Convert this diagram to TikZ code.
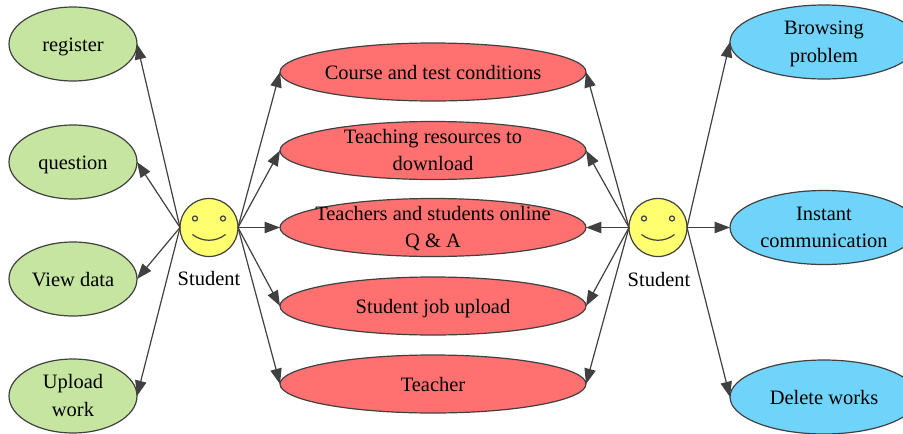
\documentclass[tikz,border=0pt]{standalone}
\usepackage{fontspec}
\setmainfont{Liberation Serif}
\usetikzlibrary{shapes.geometric,arrows.meta,calc}
\definecolor{lineg}{HTML}{404040}
\definecolor{greenf}{HTML}{C5E5A0}
\definecolor{redf}{HTML}{FF7070}
\definecolor{bluef}{HTML}{70D4FA}
\definecolor{facef}{HTML}{FFFF70}
\tikzset{
  uc/.style={ellipse,draw=lineg,line width=0.9bp,inner sep=0pt,outer sep=0pt},
  txt/.style={inner sep=0pt,outer sep=0pt,align=center,yshift=-1.5bp,font=\fontsize{15.4}{21}\selectfont},
  txtb/.style={txt,yshift=0.8bp},
  gr/.style={uc,fill=greenf,minimum width=96bp,minimum height=55.5bp},
  rd/.style={uc,fill=redf,minimum width=229.5bp,minimum height=43.5bp},
  bl/.style={uc,fill=bluef,minimum width=141bp,minimum height=55.5bp},
  face/.style={circle,draw=lineg,fill=facef,line width=0.9bp,inner sep=0pt,outer sep=0pt,minimum size=43.5bp},
  feat/.style={draw=lineg,line width=0.9bp},
  lbl/.style={txt},
  conn/.style={draw=lineg,line width=0.9bp,-{Triangle[length=11.5bp,width=8.5bp,fill=lineg]}}
}
\newcommand{\smiley}[1]{%
  \draw[feat] (#1)+(-10.5bp,6.75bp) circle (1.9bp);
  \draw[feat] (#1)+(10.5bp,6.75bp) circle (1.9bp);
  \draw[feat] ($(#1)+(-12.4bp,-5.25bp)$) .. controls ($(#1)+(-5bp,-11bp)$) and ($(#1)+(5bp,-11bp)$) .. ($(#1)+(12.4bp,-5.25bp)$);
}
\begin{document}
\begin{tikzpicture}[x=0.75bp,y=-0.75bp]
\useasboundingbox (0,0) rectangle (903,434);
\begin{scope}
\clip (0,0) rectangle (903,434);
\node[gr,label={[txt]center:\strut register}] (reg) at (73,44) {};
\node[gr,label={[txt]center:\strut question}] (que) at (73,162) {};
\node[gr,label={[txt]center:\strut View data}] (vie) at (73,279) {};
\node[gr,label={[txtb]center:\strut Upload\\\strut work}] (upl) at (73,396) {};
\node[rd,label={[txt]center:\strut Course and test conditions}] (cou) at (433,72) {};
\node[rd,label={[txtb]center:\strut Teaching resources to\\\strut download}] (res) at (433,150.5) {};
\node[rd,label={[txtb]center:\strut Teachers and students online\\\strut Q \& A}] (qa) at (433,227.5) {};
\node[rd,label={[txt]center:\strut Student job upload}] (job) at (433,306) {};
\node[rd,label={[txt]center:\strut Teacher}] (tea) at (433,384) {};
\node[bl,label={[txtb]center:\strut Browsing\\\strut problem}] (bro) at (824,42) {};
\node[bl,label={[txtb]center:\strut Instant\\\strut communication}] (ins) at (824,227.5) {};
\node[bl,label={[txt]center:\strut Delete works}] (del) at (824,397) {};
\end{scope}
\node[face] (s1) at (209,227.5) {};
\node[face] (s2) at (658,227.5) {};
\smiley{s1}
\smiley{s2}
\node[lbl] (l1) at (209,278) {\strut Student};
\node[lbl] (l2) at (659,279) {\strut Student};
\foreach \t in {reg,que,vie,upl} \draw[conn] (s1.west) -- (\t.east);
\foreach \t in {cou,res,qa,job,tea} \draw[conn] (s1.east) -- (\t.west);
\foreach \t in {cou,res,qa,job,tea} \draw[conn] (s2.west) -- (\t.east);
\foreach \t in {bro,ins,del} \draw[conn] (s2.east) -- (\t.west);
\end{tikzpicture}
\end{document}
